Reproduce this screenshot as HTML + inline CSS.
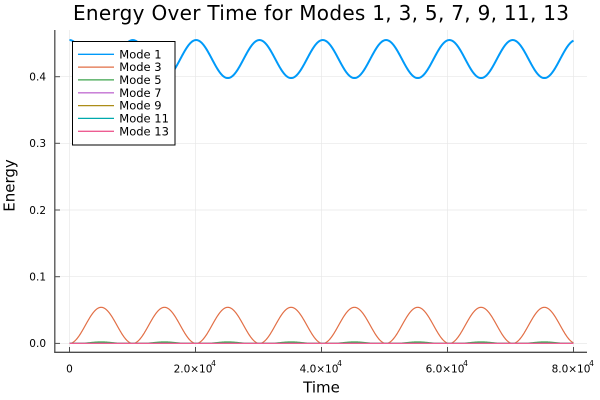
<!DOCTYPE html>
<html><head><meta charset="utf-8"><style>
html,body{margin:0;padding:0;background:#fff;}
svg{display:block;font-family:"DejaVu Sans","Liberation Sans",sans-serif;}
</style></head><body>
<svg id="s" width="600" height="400" viewBox="0 0 600 400" xmlns="http://www.w3.org/2000/svg">
<rect width="600" height="400" fill="#fff"/>
<g stroke="#e8e8e8" stroke-width="0.7">
<line x1="69.5" y1="30" x2="69.5" y2="352"/>
<line x1="195.5" y1="30" x2="195.5" y2="352"/>
<line x1="321.5" y1="30" x2="321.5" y2="352"/>
<line x1="447.5" y1="30" x2="447.5" y2="352"/>
<line x1="573.5" y1="30" x2="573.5" y2="352"/>
<line x1="55" y1="343.4" x2="587" y2="343.4"/>
<line x1="55" y1="276.7" x2="587" y2="276.7"/>
<line x1="55" y1="210" x2="587" y2="210"/>
<line x1="55" y1="143.3" x2="587" y2="143.3"/>
<line x1="55" y1="76.7" x2="587" y2="76.7"/>
</g>
<g stroke="#4d4d4d" stroke-width="1.3">
<line x1="54.8" y1="30" x2="54.8" y2="352.5"/>
<line x1="54.2" y1="352.3" x2="587" y2="352.3"/>
</g>
<g stroke="#4d4d4d" stroke-width="1">
<line x1="55" y1="343.4" x2="60" y2="343.4"/>
<line x1="55" y1="276.7" x2="60" y2="276.7"/>
<line x1="55" y1="210" x2="60" y2="210"/>
<line x1="55" y1="143.3" x2="60" y2="143.3"/>
<line x1="55" y1="76.7" x2="60" y2="76.7"/>
<line x1="69.5" y1="352" x2="69.5" y2="347"/>
<line x1="195.5" y1="352" x2="195.5" y2="347"/>
<line x1="321.5" y1="352" x2="321.5" y2="347"/>
<line x1="447.5" y1="352" x2="447.5" y2="347"/>
<line x1="573.5" y1="352" x2="573.5" y2="347"/>
</g>
<g fill="none" stroke-linejoin="round">
<path id="p1" stroke="#009af9" stroke-width="2"/>
<path id="p3" stroke="#e26f46" stroke-width="1.2"/>
<path id="p5" stroke="#3da44d" stroke-width="1.2"/>
<path id="p7" stroke="#c271d2" stroke-width="1.2"/>
<path id="p9" stroke="#ac8d18" stroke-width="1.2"/>
<path id="p11" stroke="#00a9ad" stroke-width="1.2"/>
<path id="p13" stroke="#ed5d92" stroke-width="1.2"/>
</g>
<g font-size="10.5" fill="#000" text-anchor="end">
<text x="46" y="347.2">0.0</text>
<text x="46" y="280.5">0.1</text>
<text x="46" y="213.8">0.2</text>
<text x="46" y="147.1">0.3</text>
<text x="46" y="80.5">0.4</text>
</g>
<g font-size="10.5" fill="#000" text-anchor="middle">
<text x="69.5" y="372.5">0</text>
<text x="193" y="372.5">2.0×10</text><text x="213.5" y="366" font-size="7.5">4</text>
<text x="319" y="372.5">4.0×10</text><text x="339.5" y="366" font-size="7.5">4</text>
<text x="445" y="372.5">6.0×10</text><text x="465.5" y="366" font-size="7.5">4</text>
<text x="571" y="372.5">8.0×10</text><text x="591.5" y="366" font-size="7.5">4</text>
</g>
<text x="321.5" y="392.5" font-size="15" text-anchor="middle">Time</text>
<text transform="translate(14.3,185.5) rotate(-90)" font-size="15" text-anchor="middle">Energy</text>
<text x="321" y="20" font-size="20" text-anchor="middle" textLength="496" lengthAdjust="spacing">Energy Over Time for Modes 1, 3, 5, 7, 9, 11, 13</text>
<rect x="72.5" y="41.5" width="102.5" height="103.5" fill="#fff" stroke="#000" stroke-width="1"/>
<g stroke-width="1.3">
<line x1="78" y1="54.3" x2="114" y2="54.3" stroke="#009af9"/>
<line x1="78" y1="67.1" x2="114" y2="67.1" stroke="#e26f46"/>
<line x1="78" y1="79.9" x2="114" y2="79.9" stroke="#3da44d"/>
<line x1="78" y1="92.8" x2="114" y2="92.8" stroke="#c271d2"/>
<line x1="78" y1="105.6" x2="114" y2="105.6" stroke="#ac8d18"/>
<line x1="78" y1="118.4" x2="114" y2="118.4" stroke="#00a9ad"/>
<line x1="78" y1="131.3" x2="114" y2="131.3" stroke="#ed5d92"/>
</g>
<g font-size="11.5" fill="#000">
<text x="119.3" y="58.3">Mode 1</text>
<text x="119.3" y="71.1">Mode 3</text>
<text x="119.3" y="83.9">Mode 5</text>
<text x="119.3" y="96.8">Mode 7</text>
<text x="119.3" y="109.6">Mode 9</text>
<text x="119.3" y="122.4">Mode 11</text>
<text x="119.3" y="135.3">Mode 13</text>
</g>
</svg>
<script>
(function(){
  function X(t){return 69.5 + t*126/20000;}
  function Y(v){return 343.4 - v*666.7;}
  function build(f){
    var d="";
    for(var i=0;i<=1600;i++){
      var t=i*50;
      d += (i===0?"M":"L") + X(t).toFixed(2) + " " + Y(f(t)).toFixed(2);
    }
    return d;
  }
  var w=2*Math.PI/10050;
  document.getElementById("p1").setAttribute("d", build(function(t){return 0.4265+0.0285*Math.cos(w*t);}));
  document.getElementById("p3").setAttribute("d", build(function(t){return 0.0541*(1-Math.cos(w*t))/2;}));
  document.getElementById("p5").setAttribute("d", build(function(t){var s=Math.sin(w*t/2);return 0.0022*s*s*s*s;}));
  document.getElementById("p7").setAttribute("d", build(function(t){return 0.0002*(1-Math.cos(w*t))/2;}));
  document.getElementById("p9").setAttribute("d", build(function(t){return 0.0001*(1-Math.cos(w*t))/2;}));
  document.getElementById("p11").setAttribute("d", build(function(t){return 0.00005;}));
  document.getElementById("p13").setAttribute("d", build(function(t){return 0;}));
})();
</script>
</body></html>
